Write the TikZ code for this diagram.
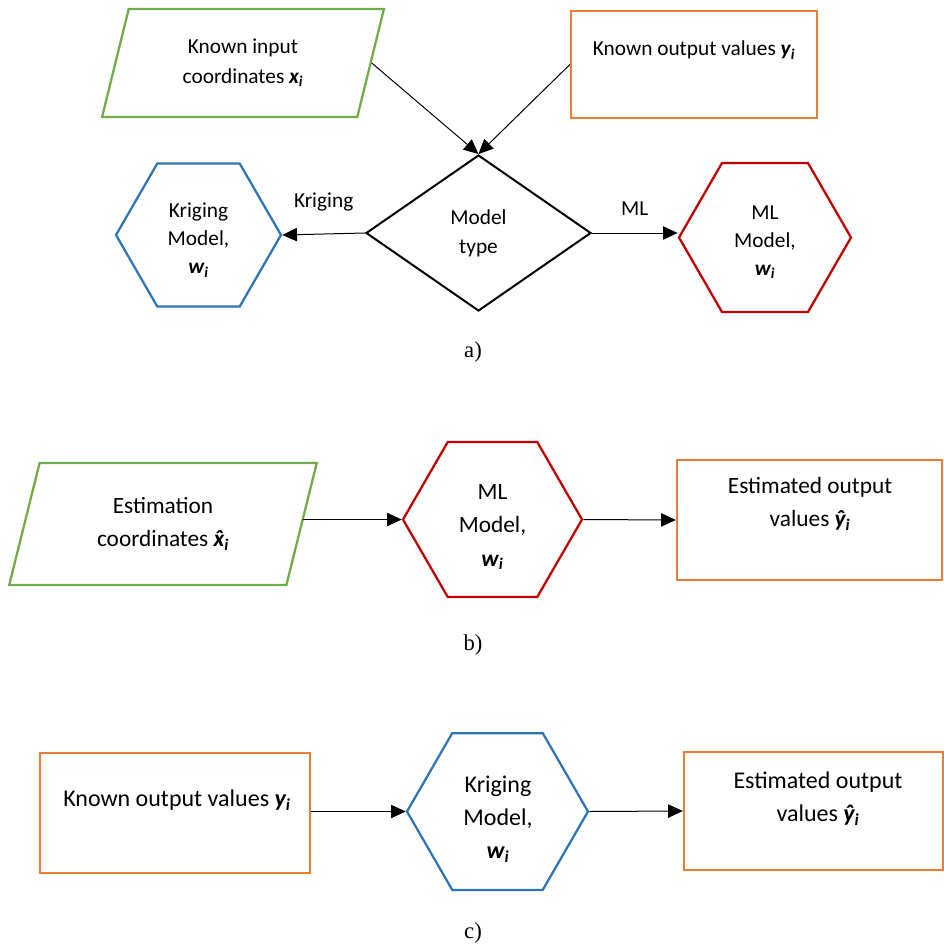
\documentclass[tikz,border=0pt]{standalone}
\usepackage{fontspec}
\setmainfont{Carlito}
\newfontfamily\capfont{Liberation Serif}
\usetikzlibrary{calc,positioning,shapes.geometric,arrows.meta}
\definecolor{kgreen}{RGB}{112,173,71}
\definecolor{korange}{RGB}{237,125,49}
\definecolor{kblue}{RGB}{46,117,182}
\definecolor{kred}{RGB}{192,0,0}
\newcommand{\upx}{0.75pt}
\newcommand{\bvec}[1]{{\bfseries\itshape #1\textsubscript{i}}}
\newcommand{\hatx}{\accent"02C6 x}

\begin{document}
\begin{tikzpicture}[x=0.75pt,y=-0.75pt,
    >={Triangle[length=11pt,width=10pt]},
    conn/.style={->,line width=0.75pt},
    inpbox/.style={trapezium,trapezium stretches=true,draw=kgreen,line width=1.7pt,inner sep=0pt,align=center},
    outbox/.style={rectangle,draw=korange,line width=1.7pt,inner sep=0pt},
    hexkrig/.style={regular polygon,regular polygon sides=6,draw=kblue,line width=1.7pt,inner sep=0pt},
    hexml/.style={regular polygon,regular polygon sides=6,draw=kred,line width=1.7pt,inner sep=0pt},
    choice/.style={diamond,draw,line width=1.5pt,inner sep=0pt,align=center},
    txta/.style={align=center,inner sep=0pt,font=\fontsize{16}{22}\selectfont},
    txtb/.style={align=center,inner sep=0pt,font=\fontsize{17.5}{25}\selectfont},
    txtc/.style={align=center,inner sep=0pt,font=\fontsize{18}{25}\selectfont},
    captxt/.style={inner sep=0pt,font=\capfont\fontsize{17}{20}\selectfont}]
  \useasboundingbox (0,0) rectangle (944,947);

  % a)
  \node[inpbox,trapezium left angle=73.5,trapezium right angle=106.5,
    minimum width=282*\upx,minimum height=108*\upx,txta] (kin) at (243,63)
    {Known input\\coordinates \bvec{x}};
  \node[outbox,minimum width=246*\upx,minimum height=107*\upx] (kout) at (694,64.5) {};
  \node[txta] (kouttxt) at (694,50) {Known output values \bvec{y}};
  \node[choice,minimum width=225*\upx,minimum height=156*\upx,font=\fontsize{16}{22}\selectfont] (mtype) at (478.5,233) {Model\\type};
  \node[hexkrig,minimum size=165*\upx] (kriga) at (198.5,235) {};
  \node[txta,font=\fontsize{16}{21}\selectfont] (krigatxt) at (198.5,240) {Kriging\\Model,\\\bvec{w}};
  \node[hexml,minimum size=172*\upx] (mla) at (765,237.5) {};
  \node[txta,font=\fontsize{16}{21}\selectfont] (mlatxt) at (765,242) {ML\\Model,\\\bvec{w}};

  \draw[conn] (kin.east) -- (mtype.north);
  \draw[conn] (kout.west) -- (mtype.north);
  \draw[conn] (mtype.west) -- node[midway,above=17pt,txta] (lblkrig) {Kriging} (kriga.east);
  \draw[conn] (mtype.east) -- node[midway,above=13pt,txta] (lblml) {ML} (mtype.east -| mla.west);
  \node[captxt] (capa) at (473,352) {a)};

  % b)
  \node[inpbox,trapezium left angle=73,trapezium right angle=107,
    minimum width=308*\upx,minimum height=122*\upx,txtb] (estin) at (163,524)
    {Estimation\\coordinates \bvec{\hatx}};
  \node[hexml,minimum size=179*\upx] (mlb) at (492.5,519.5) {};
  \node[txtb] (mlbtxt) at (492.5,527) {ML\\Model,\\\bvec{w}};
  \node[outbox,minimum width=265*\upx,minimum height=120*\upx] (estout) at (809.5,520) {};
  \node[txtb] (estouttxt) at (810,504) {Estimated output\\values \bvec{ŷ}};

  \draw[conn] (estin.east |- mlb.west) -- (mlb.west);
  \draw[conn] (mlb.east) -- (estout.west);
  \node[captxt] (capb) at (473,645) {b)};

  % c)
  \node[outbox,minimum width=270*\upx,minimum height=120*\upx] (koutc) at (175,813) {};
  \node[txtc] (kouttxtc) at (177,800) {Known output values \bvec{y}};
  \node[hexkrig,minimum size=181*\upx] (krigc) at (497.5,811.5) {};
  \node[txtc] (krigctxt) at (498,819) {Kriging\\Model,\\\bvec{w}};
  \node[outbox,minimum width=259*\upx,minimum height=118*\upx] (estoutc) at (813.5,811) {};
  \node[txtc] (estouttxtc) at (818,798.5) {Estimated output\\values \bvec{ŷ}};

  \draw[conn] (koutc.east |- krigc.west) -- (krigc.west);
  \draw[conn] (krigc.east) -- (estoutc.west);
  \node[captxt] (capc) at (473,933) {c)};
\end{tikzpicture}
\end{document}
